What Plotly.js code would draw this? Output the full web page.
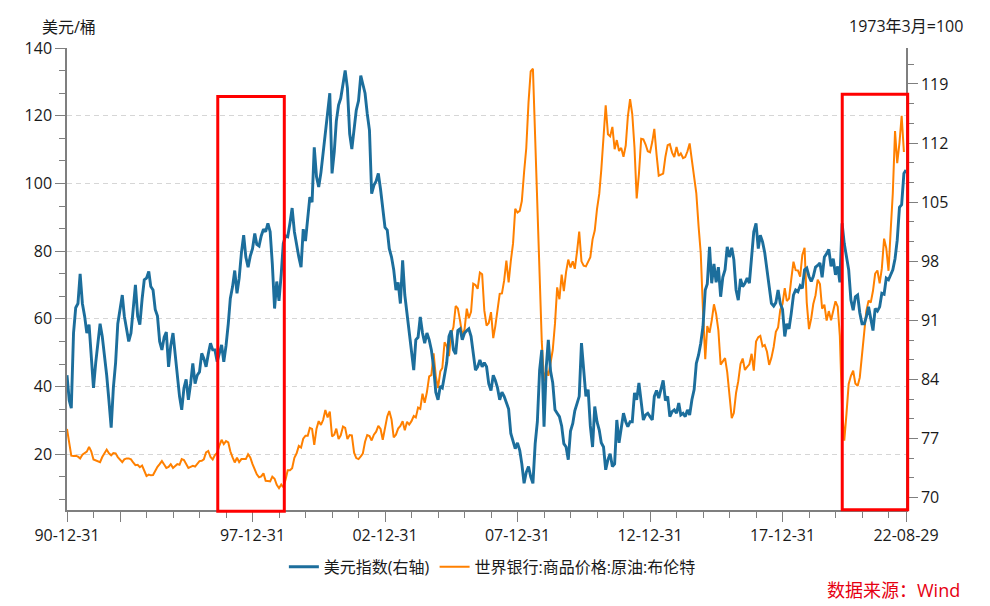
<!DOCTYPE html>
<html>
<head>
<meta charset="utf-8">
<script src="https://cdn.plot.ly/plotly-3.0.1.min.js"></script>
<style>
  html, body { margin: 0; padding: 0; background: #fff; }
  #chart { width: 990px; height: 606px; }
</style>
</head>
<body>
<div id="chart"></div>
<script>
// monthly series, first value = 1990-12
const firstYear = 1990, firstMonth = 12;

// 世界银行:商品价格:原油:布伦特 (美元/桶), 1990-12 .. 2022-07
const brent = [
  27.5,
  23.4, 19.6, 19.5, 19.6, 19.3, 18.8, 19.9, 20.4, 20.8, 22.2, 20.9, 18.5,
  18.2, 18.0, 17.7, 19.2, 20.2, 21.4, 20.3, 19.7, 20.4, 20.3, 19.2, 18.3,
  17.7, 18.5, 18.8, 18.8, 18.5, 17.6, 16.8, 16.9, 16.2, 16.7, 15.4, 13.6,
  14.0, 13.8, 13.9, 15.3, 16.3, 17.1, 18.0, 17.0, 16.0, 16.3, 17.1, 16.0,
  16.6, 17.1, 16.9, 18.6, 18.3, 17.3, 16.0, 16.3, 16.6, 16.4, 17.1, 18.0,
  18.1, 18.5, 20.6, 21.0, 19.2, 18.5, 19.8, 20.5, 22.6, 24.3, 23.0, 23.9,
  23.5, 20.9, 19.1, 17.6, 19.0, 17.7, 18.6, 18.5, 18.6, 20.0, 19.1, 17.1,
  15.2, 14.1, 13.2, 13.5, 14.4, 12.2, 12.1, 12.0, 13.4, 12.8, 11.0, 10.0,
  11.1, 10.3, 12.5, 15.3, 15.3, 15.9, 19.0, 20.3, 22.5, 22.0, 24.6, 25.5,
  25.5, 27.8, 27.5, 22.8, 27.6, 29.8, 28.7, 30.2, 33.1, 30.9, 32.6, 25.3,
  25.8, 27.6, 24.5, 25.6, 28.2, 27.8, 24.5, 25.7, 25.6, 20.5, 18.9, 18.6,
  19.4, 20.2, 23.7, 25.7, 25.4, 24.1, 25.8, 26.7, 28.4, 27.5, 24.3, 28.3,
  31.2, 32.8, 30.3, 25.0, 25.8, 27.6, 28.4, 29.8, 27.1, 29.6, 28.8, 29.8,
  31.3, 30.9, 33.8, 33.4, 37.9, 35.2, 38.4, 43.0, 43.4, 49.8, 43.1, 39.6,
  44.5, 45.5, 53.1, 51.9, 49.0, 55.6, 57.5, 63.8, 63.1, 59.4, 55.2, 56.9,
  63.0, 60.2, 62.1, 70.4, 70.0, 68.9, 73.7, 73.2, 62.5, 58.0, 58.8, 62.0,
  54.3, 57.8, 62.1, 67.4, 67.5, 71.3, 77.2, 70.8, 77.1, 82.3, 92.5, 91.4,
  91.9, 94.8, 103.3, 110.4, 123.9, 133.1, 133.9, 113.8, 99.1, 72.8, 53.2, 41.6,
  44.9, 43.2, 47.0, 50.8, 58.6, 69.3, 65.8, 73.1, 68.2, 73.9, 77.5, 75.2,
  77.0, 74.8, 79.9, 85.8, 77.0, 75.7, 75.5, 77.1, 78.2, 83.5, 86.1, 92.4,
  96.9, 104.0, 114.6, 123.1, 114.5, 113.9, 116.7, 110.1, 112.8, 109.6, 110.5, 107.9,
  111.2, 119.7, 124.9, 120.5, 110.5, 95.6, 102.8, 113.2, 113.0, 111.5, 109.5, 109.2,
  112.3, 116.1, 108.5, 102.3, 102.6, 102.9, 107.9, 111.3, 111.6, 109.1, 107.8, 110.8,
  108.1, 108.9, 107.5, 107.8, 109.5, 111.8, 106.8, 101.6, 97.1, 87.4, 79.4, 62.3,
  48.1, 57.9, 55.9, 59.5, 64.3, 61.5, 56.6, 46.5, 47.6, 48.4, 44.3, 38.0,
  30.7, 32.2, 38.2, 41.6, 46.7, 48.3, 44.9, 45.8, 46.6, 49.7, 44.7, 53.3,
  54.6, 55.0, 51.9, 52.3, 50.3, 46.4, 48.5, 51.7, 56.2, 57.5, 62.7, 64.4,
  69.1, 65.3, 66.0, 71.6, 76.9, 74.4, 74.3, 72.5, 78.9, 81.0, 64.8, 57.0,
  60.2, 64.4, 67.0, 71.6, 70.3, 63.0, 64.2, 59.5, 62.3, 59.6, 62.7, 65.2,
  63.6, 55.0, 33.7, 24.0, 32.1, 40.8, 43.2, 44.7, 40.9, 40.2, 42.7, 49.9,
  54.8, 62.3, 65.4, 64.8, 68.3, 73.4, 74.3, 70.5, 74.9, 83.7, 80.9, 74.2,
  86.5, 97.1, 115.5, 106.0, 112.0, 120.0, 109.3
];

// 美元指数 (右轴), 1990-12 .. 2022-08
const dxy = [
  84.5,
  81.5, 80.6, 89.5, 92.5, 93.0, 96.5, 93.0, 91.5, 89.5, 90.5, 87.0, 83.0,
  86.0, 88.5, 90.6, 89.1, 87.0, 84.5, 81.5, 78.3, 83.0, 86.0, 90.6, 92.5,
  94.0, 91.5, 90.0, 88.5, 89.5, 92.5, 95.2, 91.5, 90.5, 93.5, 95.8, 96.0,
  96.8, 95.0, 94.6, 92.3, 91.5, 88.5, 87.5, 89.0, 89.6, 85.5, 88.0, 89.5,
  86.8, 84.5, 82.0, 80.4, 83.0, 84.0, 81.6, 83.5, 85.9, 83.5, 84.5, 84.9,
  87.1, 86.5, 85.5, 87.0, 88.3, 87.5, 87.5, 86.1, 87.0, 88.1, 86.1, 88.0,
  90.6, 93.6, 95.0, 96.9, 94.2, 96.0, 99.0, 101.1, 98.5, 97.3, 98.6, 99.5,
  101.3, 100.0, 99.8, 101.0, 101.8, 101.5, 102.5, 101.5, 97.7, 92.4, 95.6, 93.3,
  96.5, 100.1, 101.0, 100.9, 102.5, 104.3, 101.5, 99.8, 98.5, 97.3, 101.8, 100.4,
  103.0, 105.6, 105.0, 111.5, 108.0, 106.8, 108.5, 110.9, 113.5, 115.9, 117.9, 108.4,
  111.0, 114.6, 116.5, 117.3, 119.0, 120.6, 118.5, 113.1, 111.3, 113.5, 115.9, 117.0,
  120.0, 119.0, 117.9, 115.5, 113.5, 106.0, 107.0, 107.5, 108.4, 106.5, 104.4, 102.0,
  101.7, 99.5, 98.5, 97.0, 94.6, 95.5, 93.0, 98.1, 94.0, 91.8, 89.5, 86.9,
  85.1, 88.7, 89.0, 91.4, 89.5, 88.3, 89.5, 88.7, 87.5, 85.5, 82.5, 81.6,
  83.2, 83.0, 84.8, 86.0, 89.1, 89.8, 87.5, 87.0, 89.8, 90.0, 88.7, 89.5,
  89.8, 90.0, 89.1, 87.0, 85.1, 85.5, 86.3, 85.5, 86.0, 85.5, 83.5, 82.7,
  84.5, 83.9, 83.0, 81.6, 82.5, 82.0, 81.2, 80.5, 77.6, 76.8, 75.8, 76.5,
  75.6, 74.0, 71.7, 73.0, 73.7, 72.5, 71.7, 76.4, 79.0, 85.1, 87.5, 78.4,
  85.5, 88.7, 85.0, 83.6, 80.4, 80.0, 79.6, 78.5, 76.4, 76.0, 74.5, 77.9,
  78.8, 80.3, 81.2, 82.0, 88.3, 85.5, 82.0, 82.8, 78.5, 76.0, 80.8, 79.0,
  78.0, 76.5, 76.0, 73.3, 74.5, 75.2, 73.7, 74.0, 79.2, 76.5, 78.5, 80.0,
  79.0, 78.4, 79.0, 79.0, 82.4, 81.6, 83.6, 81.2, 79.2, 79.8, 80.0, 79.6,
  79.2, 82.0, 82.7, 81.8, 83.0, 83.9, 81.5, 82.0, 79.6, 80.2, 80.4, 80.0,
  81.2, 79.8, 80.0, 79.6, 80.4, 79.8, 81.6, 82.8, 85.9, 86.9, 88.3, 90.3,
  94.6, 95.3, 99.7, 95.4, 97.7, 95.5, 97.3, 93.8, 96.1, 97.0, 99.7, 98.5,
  99.6, 98.2, 94.6, 93.4, 95.9, 95.0, 95.4, 96.0, 95.4, 98.4, 101.5, 102.5,
  99.5, 101.1, 100.3, 99.0, 97.0, 95.6, 93.0, 92.7, 93.1, 94.6, 93.0, 92.3,
  89.1, 90.6, 90.0, 91.8, 94.0, 94.6, 94.4, 95.1, 94.8, 97.0, 97.2, 96.2,
  95.6, 96.2, 97.3, 97.5, 97.8, 96.1, 98.5, 98.9, 99.4, 97.4, 98.3, 96.4,
  97.4, 95.5, 102.5, 100.1, 98.3, 97.0, 93.4, 92.2, 93.8, 94.0, 91.9, 90.6,
  90.6, 91.4, 92.6, 91.3, 89.8, 92.4, 92.1, 92.6, 94.2, 94.1, 96.0, 95.8,
  96.5, 97.0, 98.3, 100.5, 104.4, 104.7, 108.4, 108.8
];
const lastDate = "2022-08-29";

const xTickVals = ["1990-12-31", "1992-12-31", "1997-12-31", "2002-12-31", "2007-12-31", "2012-12-31", "2017-12-31", "2022-08-29"];
const xTickText = ["90-12-31", "", "97-12-31", "02-12-31", "07-12-31", "12-12-31", "17-12-31", "22-08-29"];
const leftTicks = [20, 40, 60, 80, 100, 120, 140];
const rightTicks = [70, 77, 84, 91, 98, 105, 112, 119];

function monthEnds(n) {
  const out = [];
  for (let i = 0; i < n; i++) {
    const m0 = firstMonth - 1 + i;
    const y = firstYear + Math.floor(m0 / 12);
    const m = m0 % 12;
    const d = new Date(Date.UTC(y, m + 1, 0)).getUTCDate();
    out.push(y + "-" + String(m + 1).padStart(2, "0") + "-" + String(d).padStart(2, "0"));
  }
  return out;
}

const brentDates = monthEnds(brent.length);
const dxyDates = monthEnds(dxy.length);
dxyDates[dxyDates.length - 1] = lastDate;

const FONT = "'Open Sans', 'Noto Sans CJK SC', sans-serif";
const axisGray = "#7f7f7f";

const traces = [
  {
    name: "美元指数(右轴)",
    x: dxyDates, y: dxy, yaxis: "y2",
    type: "scatter", mode: "lines",
    line: { color: "#1c6e9c", width: 2.9 },
  },
  {
    name: "世界银行:商品价格:原油:布伦特",
    x: brentDates, y: brent, yaxis: "y",
    type: "scatter", mode: "lines",
    line: { color: "#ff8000", width: 2 },
  },
];

const layout = {
  width: 990, height: 606,
  margin: { l: 67, r: 84, t: 48, b: 96 },
  paper_bgcolor: "#fff", plot_bgcolor: "#fff",
  font: { family: FONT, size: 16, color: "#1a1a1a" },
  showlegend: true,
  legend: {
    orientation: "h", x: 0.507, xanchor: "center", y: -0.123, yanchor: "middle",
    font: { size: 16 }, bgcolor: "rgba(0,0,0,0)",
  },
  xaxis: {
    type: "date", range: ["1990-12-31", lastDate],
    tickmode: "array", tickvals: xTickVals, ticktext: xTickText,
    ticks: "outside", ticklen: 10, tickcolor: axisGray, tickwidth: 1,
    showline: true, linecolor: axisGray, linewidth: 1.5,
    showgrid: false, zeroline: false,
    minor: { tick0: "1990-12-31", dtick: "M12", ticks: "outside", ticklen: 6, tickcolor: axisGray, showgrid: false },
  },
  yaxis: {
    range: [3.56, 140], tickmode: "array", tickvals: leftTicks,
    ticks: "outside", ticklen: 10, tickcolor: axisGray,
    showline: true, linecolor: axisGray, linewidth: 1.5,
    showgrid: true, gridcolor: "#d6d6d6", griddash: "5px,4px", gridwidth: 1,
    zeroline: false,
    minor: { tick0: 20, dtick: 20 / 3, ticks: "outside", ticklen: 6, tickcolor: axisGray, showgrid: false },
  },
  yaxis2: {
    overlaying: "y", side: "right",
    range: [68.54, 123.26], tickmode: "array", tickvals: rightTicks,
    ticks: "outside", ticklen: 10, tickcolor: axisGray,
    showline: true, linecolor: axisGray, linewidth: 1.5,
    showgrid: false, zeroline: false,
    minor: { tick0: 70, dtick: 7 / 3, ticks: "outside", ticklen: 6, tickcolor: axisGray, showgrid: false },
  },
  shapes: [
    { type: "rect", xref: "paper", yref: "paper", x0: 0.1797, x1: 0.2590, y0: -0.0028, y1: 0.8949,
      line: { color: "#ff0000", width: 3 }, fillcolor: "rgba(0,0,0,0)" },
    { type: "rect", xref: "paper", yref: "paper", x0: 0.9240, x1: 1.0020, y0: 0.0006, y1: 0.9000,
      line: { color: "#ff0000", width: 3 }, fillcolor: "rgba(0,0,0,0)" },
  ],
  annotations: [
    { text: "美元/桶", xref: "paper", yref: "paper", x: -0.0326, y: 1.0454,
      xanchor: "left", yanchor: "middle", showarrow: false, font: { size: 16 } },
    { text: "1973年3月=100", xref: "paper", yref: "paper", x: 1.0709, y: 1.0476,
      xanchor: "right", yanchor: "middle", showarrow: false, font: { size: 16 } },
    { text: "数据来源：Wind", xref: "paper", yref: "paper", x: 1.0668, y: -0.173,
      xanchor: "right", yanchor: "middle", showarrow: false, font: { size: 18, color: "#e60012" } },
  ],
};

Plotly.newPlot("chart", traces, layout, { displayModeBar: false, responsive: false });
</script>
</body>
</html>
